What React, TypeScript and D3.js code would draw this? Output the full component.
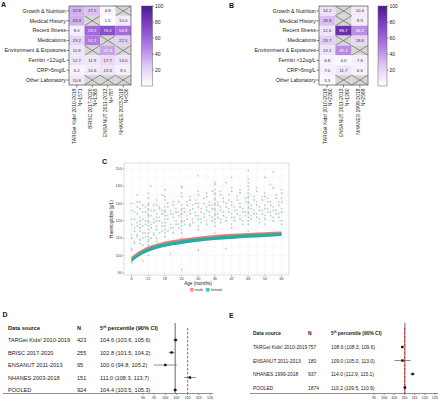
import React from 'react';
import * as d3 from 'd3';

const FONT = 'Liberation Sans, Arial, sans-serif';

// ---------- Panel A / B data ----------
const rowLabels = ['Growth & Nutrition', 'Medical History', 'Recent Illness', 'Medications', 'Environment & Exposures', 'Ferritin <12ug/L', 'CRP>5mg/L', 'Other Laboratory'];
const colsA = [['TARGet Kids! 2010-2019', 'N=1571'], ['BRISC 2017-2020', 'N=1365'], ['ENSANUT 2011-2013', 'N=787'], ['NHANES 2003-2018', 'N=530']];
const valuesA: (number | null)[][] = [
  [32.8, 27.5, 4.8, null],
  [33.3, null, 1.5, 10.0],
  [8.0, 59.1, 70.1, 56.8],
  [19.2, 51.1, null, 22.5],
  [11.8, null, 37.4, null],
  [12.7, 11.9, 17.7, 13.0],
  [6.2, 10.6, 13.3, 8.1],
  [10.8, null, null, null],
];
const colsB = [['TARGet Kids! 2010-2019', 'N=2260'], ['ENSANUT 2011-2013', 'N=1260'], ['NHANES 1999-2018', 'N=2569']];
const valuesB: (number | null)[][] = [
  [14.2, null, 10.4],
  [28.8, null, 9.9],
  [12.6, 86.7, 44.2],
  [23.7, null, 18.6],
  [13.2, 45.1, null],
  [6.8, 4.0, 7.6],
  [7.0, 11.7, 6.6],
  [3.3, null, null],
];
const colorTicks = [20, 40, 60, 80, 100];

// ---------- Panel C data ----------
const xTicksC = [6, 12, 18, 24, 30, 36, 42, 48, 54, 60];
const yTicksC = [90, 100, 110, 120, 130, 140, 150];
const maleObs: [number, number[]][] = [
  [6, [112, 104, 121, 130, 99]], [7, [116, 108, 125]], [8, [119, 111, 128, 135]], [9, [114, 122, 107, 131, 118]],
  [10, [117, 125, 110, 97]], [11, [120, 113, 128]], [12, [115, 122, 108, 130, 119, 126, 111, 136, 103, 124]],
  [13, [118, 126, 140]], [14, [121, 113, 129]], [15, [117, 124, 132, 110, 120]], [16, [122, 128]], [17, [119, 126, 114]],
  [18, [121, 128, 113, 134, 117, 125, 108]], [19, [123, 130]], [20, [118, 126, 101]], [21, [124, 131, 116]],
  [22, [120, 127]], [23, [125, 118]], [24, [122, 129, 115, 136, 119, 126, 110, 140, 124]], [25, [127, 120]],
  [26, [123, 131]], [27, [126, 118, 134]], [28, [121, 129]], [29, [125, 132]], [30, [123, 130, 117, 137, 146]],
  [31, [127, 121]], [32, [124, 133]], [33, [128, 120, 136]], [34, [125, 131]], [35, [122, 129]],
  [36, [126, 132, 119, 138, 123, 129, 113, 142, 135]], [37, [124, 131]], [38, [128, 121, 137]], [39, [125, 133]],
  [40, [122, 130, 104]], [41, [127, 135]], [42, [124, 131, 118, 139, 145]], [43, [128, 122]], [44, [126, 134]],
  [45, [123, 130, 138]], [46, [127, 120]], [47, [125, 133]], [48, [127, 133, 120, 140, 124, 130, 114, 144, 136]],
  [49, [129, 123]], [50, [126, 134]], [51, [124, 131, 139]], [52, [128, 121]], [53, [126, 134]], [54, [129, 123, 136, 118]],
  [55, [127, 133]], [56, [125, 131, 141]], [57, [128, 122, 148]], [58, [126, 135]], [59, [124, 131]], [60, [127, 133, 120, 138]],
];
const femaleObs: [number, number[]][] = [
  [6, [110, 118, 103, 126, 96]], [7, [114, 121, 107]], [8, [112, 124, 117, 131]], [9, [116, 109, 127, 120]],
  [10, [113, 121, 106, 129]], [11, [118, 111, 125]], [12, [113, 120, 106, 127, 117, 123, 109, 133, 100, 129]],
  [13, [116, 123, 110]], [14, [119, 126, 112]], [15, [115, 122, 129, 108]], [16, [120, 113, 127]], [17, [117, 124, 135]],
  [18, [119, 126, 111, 132, 115, 123, 105, 138]], [19, [121, 114, 128]], [20, [116, 124]], [21, [122, 129, 113]],
  [22, [118, 125]], [23, [123, 116, 131]], [24, [120, 127, 113, 134, 117, 124, 108, 92, 139]], [25, [125, 118]],
  [26, [121, 129]], [27, [124, 117, 132]], [28, [119, 127]], [29, [123, 130]], [30, [121, 128, 115, 135, 103]],
  [31, [125, 119]], [32, [122, 130]], [33, [126, 118, 134]], [34, [123, 129]], [35, [120, 127, 137]],
  [36, [124, 130, 117, 136, 121, 127, 111, 141, 133]], [37, [122, 129]], [38, [126, 119, 135]], [39, [123, 131]],
  [40, [120, 128, 142]], [41, [125, 132]], [42, [122, 129, 116, 137]], [43, [126, 120]], [44, [124, 132]],
  [45, [121, 128, 136]], [46, [125, 118]], [47, [123, 131]], [48, [125, 131, 118, 138, 122, 128, 112, 142, 134, 149]],
  [49, [127, 121]], [50, [124, 132]], [51, [122, 129, 137]], [52, [126, 119]], [53, [124, 132]], [54, [127, 121, 134, 145]],
  [55, [125, 131]], [56, [123, 129]], [57, [126, 120, 139]], [58, [124, 133]], [59, [122, 129]], [60, [125, 131, 118, 136]],
];
const bandAge = [6, 7, 8, 9, 10, 12, 15, 18, 21, 24, 30, 36, 42, 48, 54, 60];
const maleP5 = [98.2, 99.6, 100.8, 101.8, 102.7, 104.2, 105.8, 107.0, 107.9, 108.7, 109.9, 110.8, 111.5, 112.0, 112.4, 112.8];
const femaleP5 = [97.2, 98.6, 99.8, 100.8, 101.7, 103.2, 104.8, 106.0, 106.9, 107.7, 108.9, 109.9, 110.6, 111.2, 111.7, 112.2];

// ---------- Panel D / E data ----------
const namesD = ['TARGet Kids! 2010-2019', 'BRISC 2017-2020', 'ENSANUT 2011-2013', 'NHANES 2003-2018', 'POOLED'];
const nD = [423, 255, 95, 151, 924];
const estD = [104.6, 102.8, 100.0, 111.0, 104.4];
const loD = [103.6, 101.5, 94.8, 108.3, 103.5];
const hiD = [105.6, 104.2, 105.2, 113.7, 105.3];
const ticksD = [90, 95, 100, 105, 110, 115, 120];
const namesE = ['TARGet Kids! 2010-2019', 'ENSANUT 2011-2013', 'NHANES 1999-2018', 'POOLED'];
const nE = [757, 180, 937, 1874];
const estE = [108.9, 109.0, 114.0, 110.2];
const loE = [108.3, 105.0, 112.9, 109.5];
const hiE = [109.6, 113.0, 115.1, 110.9];
const ticksE = [95, 100, 105, 110, 115, 120, 125];
const refLine = 110;

const purple = d3.scaleLinear<string>()
  .domain([0, 25, 50, 75, 100])
  .range(['#ffffff', '#e0caf3', '#b07ce2', '#8345c8', '#4c1a8e'])
  .interpolate(d3.interpolateRgb);

function Heatmap({ id, x0, x1, y0, y1, cols, values, barX, barW }: any) {
  const xs = d3.scaleBand<number>().domain(d3.range(cols.length)).range([x0, x1]);
  const ys = d3.scaleBand<number>().domain(d3.range(rowLabels.length)).range([y0, y1]);
  const cb = d3.scaleLinear().domain([0, 100]).range([y1 + 1, y0]);
  const bw = xs.bandwidth();
  const bh = ys.bandwidth();
  return (
    <g fontFamily={FONT}>
      <defs>
        <linearGradient id={id} x1="0" y1="1" x2="0" y2="0">
          {[0, 25, 50, 75, 100].map(v => <stop key={v} offset={`${v}%`} stopColor={purple(v)} />)}
        </linearGradient>
      </defs>
      {values.map((row: (number | null)[], r: number) => row.map((v, c) => {
        const x = xs(c)!, y = ys(r)!;
        if (v === null) {
          return (
            <g key={`${r}-${c}`}>
              <rect x={x} y={y} width={bw} height={bh} fill="#d6d6d6" />
              <line x1={x} y1={y} x2={x + bw} y2={y + bh} stroke="#555" strokeWidth={0.6} />
              <line x1={x} y1={y + bh} x2={x + bw} y2={y} stroke="#555" strokeWidth={0.6} />
            </g>
          );
        }
        return (
          <g key={`${r}-${c}`}>
            <rect x={x} y={y} width={bw} height={bh} fill={purple(v)} />
            <text x={x + bw / 2} y={y + bh / 2 + 1.5} textAnchor="middle" fontSize={4.3} fill={v > 35 ? '#fff' : '#333'}>{v.toFixed(1)}</text>
          </g>
        );
      }))}
      <rect x={x0} y={y0} width={x1 - x0} height={y1 - y0} fill="none" stroke="#555" strokeWidth={0.7} />
      {rowLabels.map((l, r) => (
        <g key={l}>
          <line x1={x0 - 2.5} x2={x0} y1={ys(r)! + bh / 2} y2={ys(r)! + bh / 2} stroke="#333" strokeWidth={0.6} />
          <text x={x0 - 3.2} y={ys(r)! + bh / 2 + 1.8} textAnchor="end" fontSize={5.3} fill="#222">{l}</text>
        </g>
      ))}
      {cols.map((cl: string[], c: number) => {
        const cx = xs(c)! + bw / 2;
        return (
          <g key={c}>
            <line x1={cx} x2={cx} y1={y1} y2={y1 + 2.5} stroke="#333" strokeWidth={0.6} />
            <g transform={`translate(${cx},${y1 + 3.5}) rotate(-90)`}>
              <text x={0} y={-0.3} textAnchor="end" fontSize={5} fill="#222">{cl[0]}</text>
              <text x={0} y={5.2} textAnchor="end" fontSize={5} fill="#222">{cl[1]}</text>
            </g>
          </g>
        );
      })}
      <rect x={barX} y={y0} width={barW} height={y1 + 1 - y0} fill={`url(#${id})`} stroke="#666" strokeWidth={0.5} />
      {colorTicks.map(t => (
        <g key={t}>
          <line x1={barX + barW} x2={barX + barW + 1.5} y1={cb(t)} y2={cb(t)} stroke="#333" strokeWidth={0.5} />
          <text x={barX + barW + 2.5} y={cb(t) + 1.8} fontSize={5} fill="#222">{t}</text>
        </g>
      ))}
    </g>
  );
}

function PanelC() {
  const L = 124, R = 289, T = 163, B = 275;
  const x = d3.scaleLinear().domain([3.3, 62.7]).range([L, R]);
  const y = d3.scaleLinear().domain([88.8, 153.3]).range([B, T]);
  const minorX = d3.range(9, 61, 6);
  const minorY = d3.range(95, 151, 10);
  const area = (vals: number[]) => d3.area<number>()
    .x((_, i) => x(bandAge[i]))
    .y0((d) => y(d - 1.0))
    .y1((d) => y(d + 1.0))
    .curve(d3.curveMonotoneX)(vals) || '';
  const pts = (obs: [number, number[]][]) => obs.flatMap(([a, hs]) => hs.map(h => [a, h] as [number, number]));
  return (
    <g fontFamily={FONT}>
      <rect x={L} y={T} width={R - L} height={B - T} fill="#fff" />
      {minorX.map(v => <line key={'mx' + v} x1={x(v)} x2={x(v)} y1={T} y2={B} stroke="#f1f1f1" strokeWidth={0.4} />)}
      {minorY.map(v => <line key={'my' + v} y1={y(v)} y2={y(v)} x1={L} x2={R} stroke="#f1f1f1" strokeWidth={0.4} />)}
      {xTicksC.map(v => <line key={'gx' + v} x1={x(v)} x2={x(v)} y1={T} y2={B} stroke="#e4e4e4" strokeWidth={0.5} strokeDasharray="1,1" />)}
      {yTicksC.map(v => <line key={'gy' + v} y1={y(v)} y2={y(v)} x1={L} x2={R} stroke="#e4e4e4" strokeWidth={0.5} strokeDasharray="1,1" />)}
      {pts(maleObs).map(([a, h], i) => <rect key={'m' + i} x={x(a) - 0.8} y={y(h) - 0.8} width={1.6} height={1.6} fill="#F8766D" opacity={0.5} />)}
      {pts(femaleObs).map(([a, h], i) => <rect key={'f' + i} x={x(a) + 0.2 - 0.8} y={y(h) - 0.8} width={1.6} height={1.6} fill="#00BFC4" opacity={0.5} />)}
      <path d={area(maleP5)} fill="#f07a6e" />
      <path d={area(femaleP5)} fill="#22aea6" />
      <rect x={L} y={T} width={R - L} height={B - T} fill="none" stroke="#c8c8c8" strokeWidth={0.6} />
      {xTicksC.map(v => (
        <g key={'xt' + v}>
          <line x1={x(v)} x2={x(v)} y1={B} y2={B + 1.5} stroke="#555" strokeWidth={0.4} />
          <text x={x(v)} y={B + 5} textAnchor="middle" fontSize={3.8} fill="#444">{v}</text>
        </g>
      ))}
      {yTicksC.map(v => (
        <g key={'yt' + v}>
          <line x1={L - 1.5} x2={L} y1={y(v)} y2={y(v)} stroke="#555" strokeWidth={0.4} />
          <text x={L - 2.2} y={y(v) + 1.3} textAnchor="end" fontSize={3.8} fill="#444">{v}</text>
        </g>
      ))}
      <text x={198} y={B + 10} textAnchor="middle" fontSize={4.6} fill="#222">Age (months)</text>
      <text transform={`translate(${113},${(T + B) / 2}) rotate(-90)`} textAnchor="middle" fontSize={4.6} fill="#222">Haemoglobin (g/L)</text>
      <rect x={190} y={288} width={3.6} height={3.6} fill="#F8766D" opacity={0.8} />
      <text x={195} y={291.3} fontSize={3.8} fill="#333">male</text>
      <rect x={206} y={288} width={3.6} height={3.6} fill="#00BFC4" opacity={0.8} />
      <text x={211} y={291.3} fontSize={3.8} fill="#333">female</text>
    </g>
  );
}

function Forest({ names, ns, est, lo, hi, ticks, domain, range, rowsY, headerY, xName, xN, xEst, fs, lineX0, vTop }: any) {
  const x = d3.scaleLinear().domain(domain).range(range);
  const axisY = 393.5;
  const pooled = est[est.length - 1];
  return (
    <g fontFamily={FONT} fill="#222">
      <text x={xName} y={headerY + 2} fontSize={fs} fontWeight="bold">Data source</text>
      <text x={xN} y={headerY + 2} fontSize={fs} fontWeight="bold">N</text>
      <text x={xEst} y={headerY + 2} fontSize={fs} fontWeight="bold">5<tspan fontSize={fs * 0.6} dy={-fs * 0.4}>th</tspan><tspan dy={fs * 0.4}> percentile (90% CI)</tspan></text>
      {names.map((nm: string, i: number) => (
        <g key={nm}>
          <text x={xName} y={rowsY[i] + 2} fontSize={fs}>{nm}</text>
          <text x={xN} y={rowsY[i] + 2} fontSize={fs}>{ns[i]}</text>
          <text x={xEst} y={rowsY[i] + 2} fontSize={fs}>{`${est[i].toFixed(1)} (${lo[i].toFixed(1)}, ${hi[i].toFixed(1)})`}</text>
        </g>
      ))}
      <line x1={x(pooled)} x2={x(pooled)} y1={vTop} y2={axisY} stroke="#666" strokeWidth={1} />
      <line x1={x(refLine)} x2={x(refLine)} y1={vTop + 5} y2={axisY} stroke="#e8322b" strokeWidth={0.9} strokeDasharray="2.5,1.5" />
      {names.map((nm: string, i: number) => (
        <g key={'p' + nm}>
          <line x1={x(lo[i])} x2={x(hi[i])} y1={rowsY[i]} y2={rowsY[i]} stroke="#444" strokeWidth={0.6} />
          <rect x={x(est[i]) - 1.2} y={rowsY[i] - 1.2} width={2.4} height={2.4} fill="#111" />
        </g>
      ))}
      <line x1={lineX0} x2={range[1] + 3} y1={axisY} y2={axisY} stroke="#444" strokeWidth={0.6} />
      {ticks.map((t: number) => (
        <g key={t}>
          <line x1={x(t)} x2={x(t)} y1={axisY} y2={axisY + 1.5} stroke="#444" strokeWidth={0.5} />
          <text x={x(t)} y={axisY + 5.8} textAnchor="middle" fontSize={3.6}>{t}</text>
        </g>
      ))}
    </g>
  );
}

export default function App() {
  return (
    <div style={{ position: 'absolute', left: 0, top: 0, background: '#fff' }}>
      <svg width={440} height={402} viewBox="0 0 440 402" style={{ display: 'block' }}>
        <rect width={440} height={402} fill="#fff" />
        <g fontFamily={FONT} fontWeight="bold" fontSize={7} fill="#111">
          <text x={1} y={6.5}>A</text>
          <text x={229} y={8}>B</text>
          <text x={102} y={163.5}>C</text>
          <text x={2.5} y={317}>D</text>
          <text x={229} y={317.5}>E</text>
        </g>
        <Heatmap id="gradA" x0={69} x1={131} y0={6} y1={85} cols={colsA} values={valuesA} barX={141.5} barW={11} />
        <Heatmap id="gradB" x0={319} x1={368} y0={6} y1={85} cols={colsB} values={valuesB} barX={378} barW={9} />
        <PanelC />
        <Forest names={namesD} ns={nD} est={estD} lo={loD} hi={hiD} ticks={ticksD} domain={[90, 120]} range={[143, 210]}
          rowsY={[340, 352.5, 365, 377.5, 390]} headerY={328} xName={8} xN={77} xEst={100} fs={5.6} lineX0={3} vTop={323} />
        <Forest names={namesE} ns={nE} est={estE} lo={loE} hi={hiE} ticks={ticksE} domain={[95, 125]} range={[374, 435]}
          rowsY={[347, 360.5, 374, 387.5]} headerY={333} xName={253} xN={308} xEst={331} fs={4.9} lineX0={250} vTop={323} />
      </svg>
    </div>
  );
}
